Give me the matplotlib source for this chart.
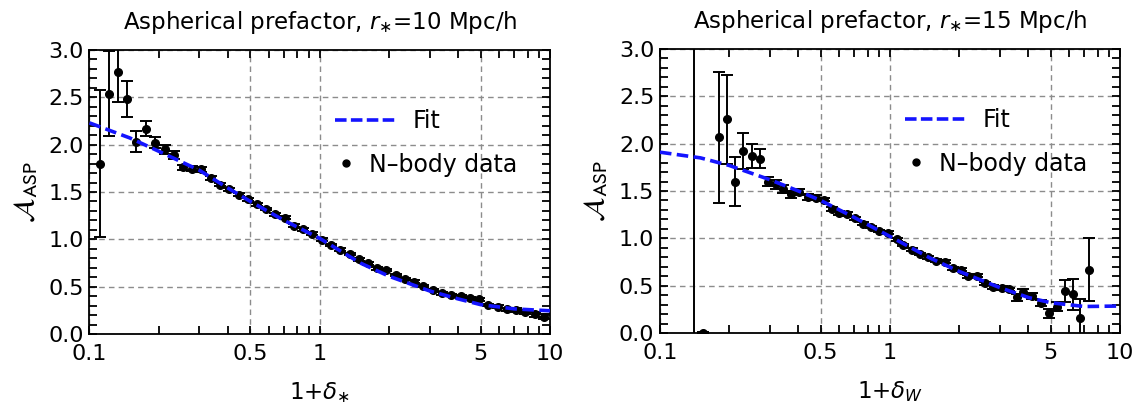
import numpy as np
import matplotlib
matplotlib.use('Agg')
import matplotlib.pyplot as plt
from matplotlib.lines import Line2D

plt.rcParams['font.family'] = 'DejaVu Sans'
plt.rcParams['mathtext.fontset'] = 'dejavusans'

# left panel: r* = 10 Mpc/h
x_left = [0.111, 0.121, 0.133, 0.146, 0.160, 0.176, 0.193, 0.212, 0.232, 0.255,
          0.279, 0.306, 0.336, 0.369, 0.404, 0.444, 0.487, 0.534, 0.586, 0.642,
          0.705, 0.773, 0.848, 0.930, 1.02, 1.12, 1.23, 1.35, 1.48, 1.62,
          1.78, 1.95, 2.14, 2.35, 2.58, 2.82, 3.10, 3.40, 3.73, 4.09,
          4.49, 4.92, 5.40, 5.92, 6.50, 7.13, 7.82, 8.58, 9.41]
y_left = [1.80, 2.54, 2.77, 2.48, 2.03, 2.17, 2.02, 1.95, 1.89, 1.76,
          1.745, 1.74, 1.65, 1.575, 1.53, 1.47, 1.425, 1.37, 1.32, 1.265,
          1.23, 1.145, 1.106, 1.06, 0.995, 0.94, 0.89, 0.845, 0.79, 0.748,
          0.693, 0.676, 0.623, 0.58, 0.553, 0.507, 0.465, 0.43, 0.412, 0.40,
          0.377, 0.367, 0.306, 0.288, 0.26, 0.254, 0.236, 0.208, 0.183]
e_left = [0.78, 0.45, 0.32, 0.19, 0.11, 0.08, 0.06, 0.05, 0.04, 0.03,
          0.025, 0.025, 0.02, 0.015, 0.015, 0.015, 0.015, 0.015, 0.015, 0.015,
          0.015, 0.015, 0.015, 0.015, 0.015, 0.015, 0.015, 0.015, 0.015, 0.015,
          0.015, 0.015, 0.015, 0.015, 0.015, 0.015, 0.015, 0.015, 0.015, 0.015,
          0.015, 0.015, 0.015, 0.015, 0.015, 0.02, 0.02, 0.025, 0.03]
fit_x_left = [0.1, 0.15, 0.2, 0.3, 0.4, 0.5, 0.7, 1.0, 1.5, 2.0, 3.0, 4.0, 5.0, 7.0, 10.0]
fit_y_left = [2.23, 2.07, 1.93, 1.73, 1.54, 1.40, 1.20, 1.01, 0.75, 0.61, 0.455, 0.37, 0.31, 0.265, 0.245]

# right panel: r* = 15 Mpc/h
x_right = [0.141, 0.154, 0.181, 0.196, 0.212, 0.229, 0.251, 0.272, 0.294, 0.318,
           0.344, 0.371, 0.403, 0.438, 0.478, 0.516, 0.558, 0.602, 0.652, 0.704,
           0.766, 0.829, 0.899, 0.977, 1.069, 1.143, 1.243, 1.350, 1.463, 1.585,
           1.734, 1.873, 2.036, 2.190, 2.382, 2.588, 2.813, 3.060, 3.301, 3.554,
           3.798, 4.132, 4.521, 4.913, 5.307, 5.768, 6.229, 6.699, 7.355]
y_right = [-0.5, 0.0, 2.067, 2.26, 1.60, 1.92, 1.87, 1.84, 1.60, 1.57,
           1.52, 1.465, 1.49, 1.44, 1.43, 1.41, 1.31, 1.27, 1.26, 1.21,
           1.155, 1.12, 1.077, 1.06, 0.99, 0.93, 0.88, 0.834, 0.80, 0.764,
           0.753, 0.683, 0.669, 0.599, 0.605, 0.525, 0.49, 0.472, 0.46, 0.377,
           0.436, 0.391, 0.314, 0.208, 0.278, 0.443, 0.408, 0.16, 0.669]
e_right = [5.0, 0.01, 0.69, 0.47, 0.26, 0.19, 0.13, 0.10, 0.05, 0.05,
           0.04, 0.04, 0.03, 0.03, 0.03, 0.02, 0.02, 0.02, 0.02, 0.015,
           0.015, 0.015, 0.015, 0.015, 0.015, 0.015, 0.015, 0.015, 0.015, 0.015,
           0.015, 0.015, 0.015, 0.015, 0.015, 0.015, 0.02, 0.02, 0.02, 0.04,
           0.03, 0.03, 0.03, 0.05, 0.05, 0.12, 0.16, 0.20, 0.33]
fit_x_right = [0.1, 0.15, 0.2, 0.3, 0.4, 0.5, 0.7, 1.0, 1.5, 2.0, 3.0, 4.0, 5.0, 7.0, 10.0]
fit_y_right = [1.91, 1.85, 1.77, 1.62, 1.50, 1.40, 1.22, 1.02, 0.79, 0.65, 0.48, 0.375, 0.32, 0.28, 0.285]

xmaj = [0.1, 0.5, 1, 5, 10]
xmaj_lab = ['0.1', '0.5', '1', '5', '10']
xmin = [0.2, 0.3, 0.4, 0.6, 0.7, 0.8, 0.9, 2, 3, 4, 6, 7, 8, 9]
ymaj = [0.0, 0.5, 1.0, 1.5, 2.0, 2.5, 3.0]
ymin = [i / 10 for i in range(31)]

blue = '#1414ff'
fs = 16

fig = plt.figure(figsize=(11.41, 4.07), dpi=100)
ax1 = fig.add_axes([0.0784, 0.1794, 0.4036, 0.6978])
ax2 = fig.add_axes([0.5784, 0.1818, 0.4032, 0.6978])

panels = [
    (ax1, x_left, y_left, e_left, fit_x_left, fit_y_left,
     r'Aspherical prefactor, $r_{\ast}$=10 Mpc/h', r'1+$\delta_{\ast}$'),
    (ax2, x_right, y_right, e_right, fit_x_right, fit_y_right,
     r'Aspherical prefactor, $r_{\ast}$=15 Mpc/h', r'1+$\delta_W$'),
]

for ax, xd, yd, ed, fx, fy, title, xlab in panels:
    ax.set_xscale('log')
    ax.set_xlim(0.1, 10)
    ax.set_ylim(0, 3)
    ax.errorbar(xd, yd, yerr=ed, fmt='o', color='black', ms=5.5, elinewidth=1.4,
                capsize=4, capthick=1.4, zorder=3)
    ax.plot(fx, fy, color=blue, lw=2.6, ls=(0, (3.2, 1.5)), zorder=4)

    ax.set_xticks(xmaj)
    ax.set_xticklabels(xmaj_lab)
    ax.set_xticks(xmin, minor=True)
    ax.set_xticklabels([], minor=True)
    ax.set_yticks(ymaj)
    ax.set_yticklabels(['%.1f' % v for v in ymaj])
    ax.set_yticks(ymin, minor=True)
    ax.tick_params(which='both', direction='in', top=True, right=True,
                   length=6, width=1.3, color='black', labelsize=fs)
    ax.tick_params(axis='x', pad=7)
    ax.tick_params(axis='y', pad=4)
    ax.grid(True, which='major', color='#8c8c8c', ls=(0, (4, 3)), lw=1.0)
    for s in ax.spines.values():
        s.set_linewidth(1.3)

    ax.set_title(title, fontsize=fs + 0.5, pad=15)
    ax.set_xlabel(xlab, fontsize=fs + 0.5, labelpad=12)
    ax.set_ylabel(r'$\mathcal{A}_{\mathrm{ASP}}$', fontsize=fs + 5, labelpad=6,
                  math_fontfamily='stixsans')

    h_fit = Line2D([], [], color=blue, lw=2.6, ls=(0, (3.2, 1.2)))
    h_dat = Line2D([], [], color='black', marker='o', ms=5, ls='none')
    leg1 = ax.legend([h_fit], ['Fit'], loc='center left', bbox_to_anchor=(0.533, 0.75),
                     frameon=False, fontsize=fs + 1, handlelength=2.55,
                     handletextpad=0.75, borderpad=0, borderaxespad=0)
    ax.add_artist(leg1)
    ax.legend([h_dat], ['N\u2013body data'], loc='center left', bbox_to_anchor=(0.537, 0.596),
              frameon=False, fontsize=fs + 1, handlelength=0.8,
              handletextpad=0.55, borderpad=0, borderaxespad=0)

fig.savefig('out.png', dpi=100)
